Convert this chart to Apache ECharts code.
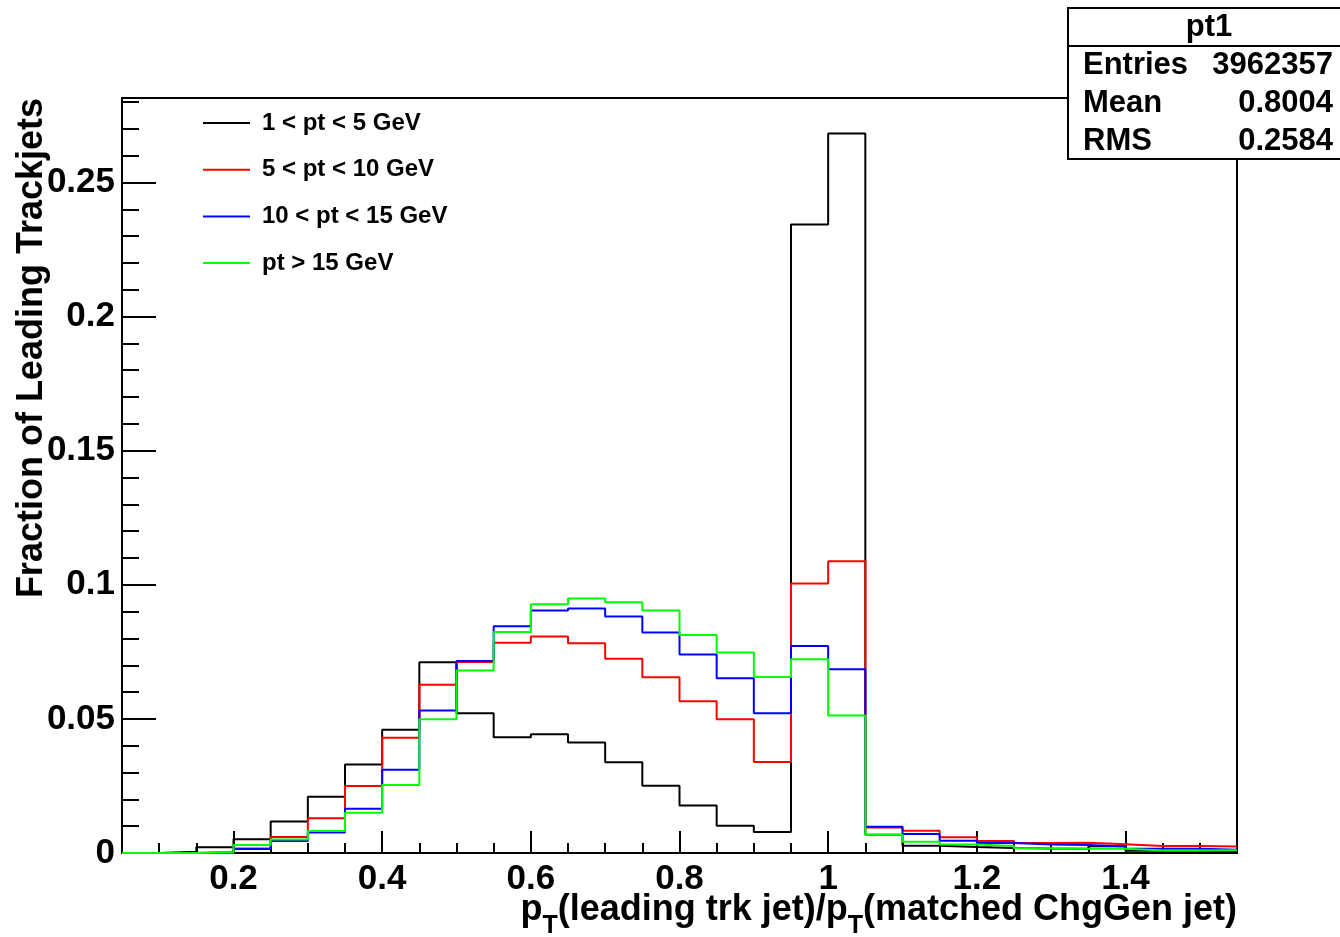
<!DOCTYPE html>
<html>
<head>
<meta charset="utf-8">
<script src="https://cdn.jsdelivr.net/npm/echarts@6/dist/echarts.min.js"></script>
<style>
html,body{margin:0;padding:0;background:#fff;}
#chart{width:1340px;height:937px;}
</style>
</head>
<body>
<div id="chart"></div>
<script>
// Bin edges (31 edges -> 30 bins of 0.05)
const binEdges = [0.05,0.10,0.15,0.20,0.25,0.30,0.35,0.40,0.45,0.50,0.55,0.60,0.65,0.70,0.75,0.80,0.85,0.90,0.95,1.00,1.05,1.10,1.15,1.20,1.25,1.30,1.35,1.40,1.45,1.50,1.55];

const seriesNames = ['1 < pt < 5 GeV','5 < pt < 10 GeV','10 < pt < 15 GeV','pt > 15 GeV'];

const pt1to5 = [0,0.0005,0.0021,0.0051,0.0117,0.021,0.033,0.046,0.0711,0.0521,0.0432,0.0443,0.0412,0.0338,0.0251,0.0177,0.0102,0.0078,0.2343,0.2683,0.0068,0.0027,0.0022,0.0019,0.0017,0.0016,0.0025,0.0008,0.0008,0.0006];
const pt5to10 = [0,0,0.0003,0.0017,0.006,0.013,0.025,0.043,0.0627,0.0712,0.0784,0.0807,0.0782,0.0724,0.0655,0.0566,0.0499,0.0339,0.1005,0.1088,0.0095,0.0083,0.0059,0.0045,0.0037,0.0038,0.0033,0.0026,0.0026,0.0024];
const pt10to15 = [0,0,0.0002,0.0015,0.0045,0.0076,0.0165,0.031,0.0531,0.0716,0.0845,0.0904,0.0912,0.0882,0.0822,0.074,0.0652,0.0521,0.0772,0.0685,0.0098,0.0071,0.0046,0.0037,0.0032,0.0030,0.0024,0.0016,0.0016,0.0012];
const ptAbove15 = [0,0,0.0002,0.003,0.005,0.0082,0.015,0.0254,0.0499,0.068,0.0824,0.0927,0.0949,0.0935,0.0904,0.0813,0.0748,0.0656,0.0722,0.0513,0.0068,0.0042,0.0032,0.0026,0.0018,0.0016,0.0016,0.0009,0.0009,0.001];

const xMajorTicks = [0.2,0.4,0.6,0.8,1.0,1.2,1.4];
const xMinorTicks = [0.1,0.15,0.25,0.3,0.35,0.45,0.5,0.55,0.65,0.7,0.75,0.85,0.9,0.95,1.05,1.1,1.15,1.25,1.3,1.35,1.45,1.5];
const yMajorTicks = [0,0.05,0.1,0.15,0.2,0.25];
const yMinorTicks = [0.01,0.02,0.03,0.04,0.06,0.07,0.08,0.09,0.11,0.12,0.13,0.14,0.16,0.17,0.18,0.19,0.21,0.22,0.23,0.24,0.26,0.27,0.28];

const statsTitle = 'pt1';
const statsLabels = ['Entries','Mean','RMS'];
const statsValues = ['3962357','0.8004','0.2584'];

const colors = ['#000000','#ff0000','#0000ff','#00ff00'];
const FONT = 'Liberation Sans, Arial, Helvetica, sans-serif';

function histData(vals){
  const d = vals.map((v,i)=>[binEdges[i], v]);
  d.push([binEdges[binEdges.length-1], vals[vals.length-1]]);
  return d;
}

const allVals = [pt1to5, pt5to10, pt10to15, ptAbove15];
const chart = echarts.init(document.getElementById('chart'), null, {renderer:'canvas'});

const xBase = {type:'value', min:0.05, max:1.55, gridIndex:0, position:'bottom', splitLine:{show:false}};
const yBase = {type:'value', min:0, max:0.2815, gridIndex:0, position:'left', splitLine:{show:false}};

const option = {
  backgroundColor:'#ffffff',
  animation:false,
  grid:{left:122, top:98, right:103, bottom:84, show:true, borderColor:'#000', borderWidth:2, backgroundColor:'transparent'},
  xAxis:[
    Object.assign({}, xBase, {
      axisLine:{show:true, lineStyle:{color:'#000', width:2}},
      axisTick:{show:true, inside:true, length:22, customValues:xMajorTicks, lineStyle:{color:'#000', width:2}},
      axisLabel:{show:true, customValues:xMajorTicks, margin:9, color:'#000', fontSize:35, fontWeight:'bold', fontFamily:FONT,
        formatter:v=>String(+v.toFixed(2))}
    }),
    Object.assign({}, xBase, {
      axisLine:{show:false},
      axisTick:{show:true, inside:true, length:10, customValues:xMinorTicks, lineStyle:{color:'#000', width:2}},
      axisLabel:{show:false}
    })
  ],
  yAxis:[
    Object.assign({}, yBase, {
      axisLine:{show:true, lineStyle:{color:'#000', width:2}},
      axisTick:{show:true, inside:true, length:34, customValues:yMajorTicks, lineStyle:{color:'#000', width:2}},
      axisLabel:{show:true, customValues:yMajorTicks, margin:7, color:'#000', fontSize:35, fontWeight:'bold', fontFamily:FONT,
        formatter:v=>String(+v.toFixed(2))}
    }),
    Object.assign({}, yBase, {
      axisLine:{show:false},
      axisTick:{show:true, inside:true, length:17, customValues:yMinorTicks, lineStyle:{color:'#000', width:2}},
      axisLabel:{show:false}
    })
  ],
  legend:{
    orient:'vertical', left:198, top:106, itemWidth:47, itemHeight:2, itemGap:22.7, icon:'rect',
    data:seriesNames,
    textStyle:{fontSize:24, fontWeight:'bold', fontFamily:FONT, color:'#000', lineHeight:24, padding:[0,0,0,7]}
  },
  series: allVals.map((vals,i)=>({
    name:seriesNames[i], type:'line', step:'end', xAxisIndex:0, yAxisIndex:0,
    data:histData(vals), symbol:'none', color:colors[i],
    lineStyle:{color:colors[i], width:2}, z:3+i
  })),
  graphic:[
    {type:'text', x:1237, y:912, z:100, style:{
      text:'{a|p}{s|T}{a|(leading trk jet)/p}{s|T}{a|(matched ChgGen jet)}',
      align:'right', verticalAlign:'middle',
      rich:{
        a:{fontSize:36, fontWeight:'bold', fontFamily:FONT, fill:'#000', lineHeight:40, verticalAlign:'top'},
        s:{fontSize:25, fontWeight:'bold', fontFamily:FONT, fill:'#000', lineHeight:40, verticalAlign:'top', padding:[22,0,0,0]}
      }
    }},
    {type:'text', x:32, y:98, rotation:Math.PI/2, z:100, style:{
      text:'Fraction of Leading Trackjets', align:'right', verticalAlign:'middle',
      fontSize:36, fontWeight:'bold', fontFamily:FONT, fill:'#000'
    }},
    {type:'rect', z:100, shape:{x:1068, y:8, width:290, height:151}, style:{fill:'#fff', stroke:'#000', lineWidth:2}},
    {type:'line', z:101, shape:{x1:1068, y1:46, x2:1358, y2:46}, style:{stroke:'#000', lineWidth:2}},
    {type:'text', z:102, x:1209, y:27, style:{text:statsTitle, align:'center', verticalAlign:'middle', fontSize:31, fontWeight:'bold', fontFamily:FONT, fill:'#000'}},
    ...statsLabels.map((t,i)=>({type:'text', z:102, x:1083, y:65+i*38, style:{text:t, align:'left', verticalAlign:'middle', fontSize:31, fontWeight:'bold', fontFamily:FONT, fill:'#000'}})),
    ...statsValues.map((t,i)=>({type:'text', z:102, x:1333, y:65+i*38, style:{text:t, align:'right', verticalAlign:'middle', fontSize:31, fontWeight:'bold', fontFamily:FONT, fill:'#000'}}))
  ]
};
chart.setOption(option);
</script>
</body>
</html>
